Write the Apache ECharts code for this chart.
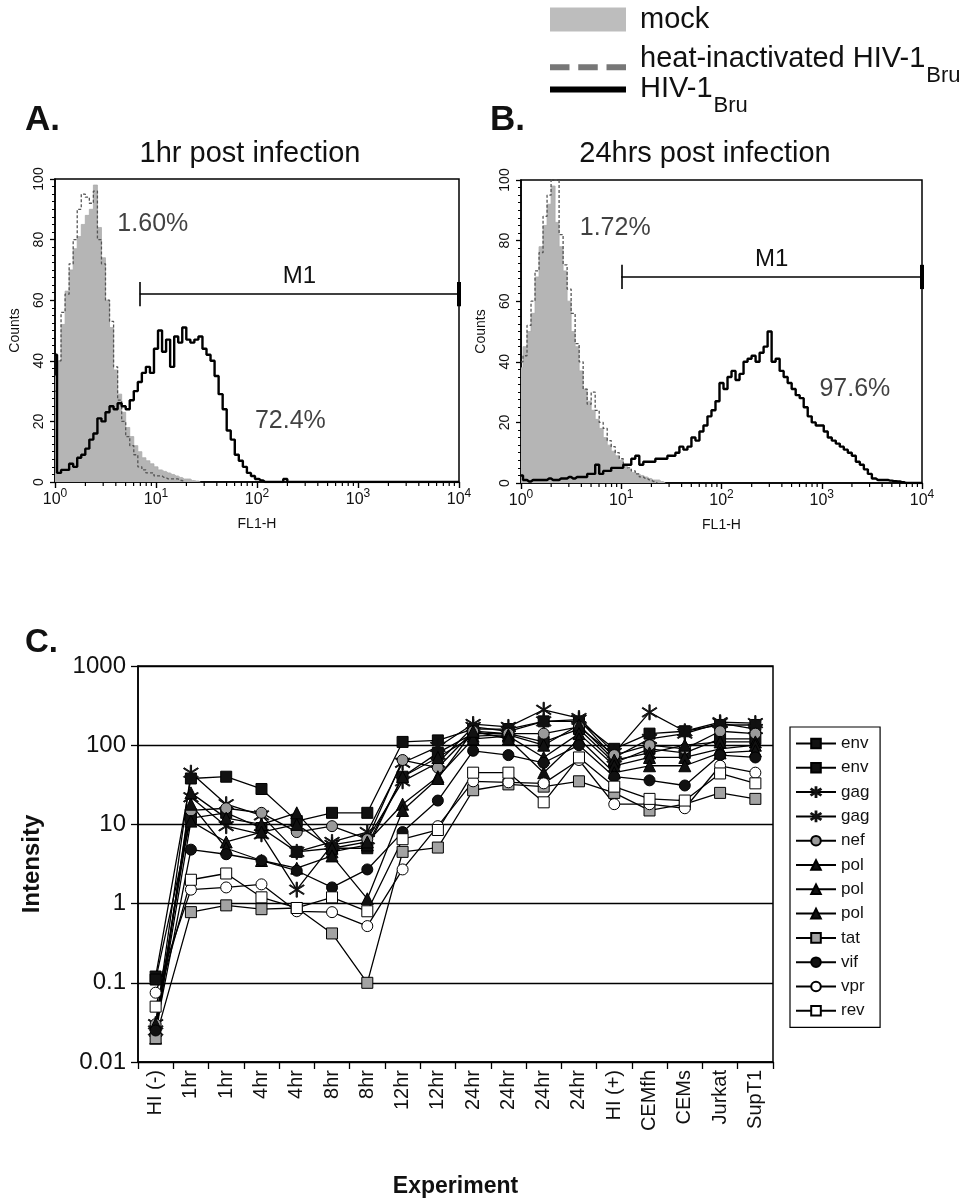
<!DOCTYPE html>
<html>
<head>
<meta charset="utf-8">
<script src="https://cdn.jsdelivr.net/npm/echarts@6.0.0/dist/echarts.min.js"></script>
<style>
html, body { margin: 0; padding: 0; background: #fff; }
#chart { width: 969px; height: 1201px; }
</style>
</head>
<body>
<div id="chart"></div>
<script>
// ---- panels A/B: flow histograms, 25 bins per decade starting at FL1-H = 10^0 ----
const binStep = 0.04;
const mockA = [35, 40, 52, 63, 70, 77, 81, 85, 88, 90, 98, 84, 74, 60, 51, 37, 29, 23, 18, 15, 12, 10, 8, 7, 6, 5, 4, 3.5, 3, 2.5, 2, 1.5, 1, 1, 0.5, 0.3, 0];
const heatA = [30, 40, 56, 62, 72, 80, 90, 95, 94, 92, 96, 80, 72, 60, 53, 38, 27, 20, 15, 12, 9, 5, 4, 3, 3, 2, 2, 1.5, 1, 1, 1, 0.5, 0];
const hivA = [42, 3, 4, 4, 6, 5, 8, 9, 11, 14, 16, 21, 20, 23, 25, 24, 26, 25, 24, 27, 30, 33, 36, 38, 36, 44, 50, 43, 47, 38, 48, 46, 51, 47, 46, 47, 48, 44, 42, 40, 35, 29, 24, 17, 14, 9, 7, 5, 3, 2, 1, 0.5, 0, 0, 0, 0, 0, 1, 0];
const mockB = [38, 45, 50, 56, 68, 78, 85, 92, 98, 86, 78, 70, 60, 50, 45, 37, 31, 27, 24, 21, 18, 15, 12.5, 10.5, 9, 7.5, 6, 4.5, 3.5, 3, 2.5, 2, 1.5, 1, 1, 0.5, 0];
const heatB = [40, 42, 52, 60, 70, 76, 88, 95, 100, 100, 82, 72, 64, 56, 46, 40, 31, 26, 30, 24, 20, 18, 14, 12, 10, 8, 6, 5, 4, 3, 2, 1.5, 1, 0.5, 0];
const hivB = [2.5, 1, 0.5, 1, 1, 1, 1, 1.5, 1, 1, 1.5, 1.5, 2, 1.5, 2, 2, 2, 3, 3, 6, 3, 4, 4, 5, 5, 5, 6, 6, 8, 9, 6, 7, 7, 7, 8, 8, 8, 9, 9, 10, 12, 11, 12, 15, 14, 17, 19, 22, 24, 27, 33, 31, 35, 37, 34, 36, 40, 41, 42, 40, 43, 45, 50, 40, 41, 37, 35, 33, 31, 29, 28, 25, 22, 20, 19, 19, 17, 15, 14, 13, 12, 11, 10, 9, 7, 6, 4.5, 3, 1.5, 1, 1, 1, 0.8, 0.6, 0.5, 0.3, 0];
const gateA = { start: 6.9, end: 10000, y: 62 };
const gateB = { start: 10, end: 10000, y: 68 };
const notesA = [{ value: [9.3, 85], name: '1.60%' }, { value: [214, 20], name: '72.4%' }];
const notesB = [{ value: [8.7, 84], name: '1.72%' }, { value: [2140, 31], name: '97.6%' }];
const decades = [1, 10, 100, 1000];
const minorSteps = [2, 3, 4, 5, 6, 7, 8, 9];

// ---- panel C ----
const categories = ['HI (-)', '1hr', '1hr', '4hr', '4hr', '8hr', '8hr', '12hr', '12hr', '24hr', '24hr', '24hr', '24hr', 'HI (+)', 'CEMfh', 'CEMs', 'Jurkat', 'SupT1'];
const env1 = [0.12, 38, 40, 28, 11, 14, 14, 110, 115, 160, 160, 200, 200, 90, 140, 150, 180, 180];
const env2 = [0.11, 12, 14, 9, 4.5, 5, 5, 40, 80, 140, 140, 110, 160, 60, 90, 80, 120, 120];
const gag1 = [0.03, 45, 18, 13, 4.5, 6, 8, 60, 95, 185, 170, 280, 220, 80, 260, 150, 195, 190];
const gag2 = [0.025, 22, 9.5, 7.5, 1.5, 5.5, 6.5, 35, 60, 170, 150, 200, 210, 70, 120, 140, 190, 160];
const nef = [0.03, 15, 16, 14, 8, 9.5, 6.5, 65, 52, 150, 140, 140, 170, 75, 100, 90, 150, 140];
const pol1 = [0.02, 25, 12, 10, 14, 4.5, 5.5, 40, 70, 130, 135, 100, 180, 65, 80, 100, 110, 110];
const pol2 = [0.025, 11, 6, 8, 10, 5, 6, 18, 40, 120, 130, 70, 140, 55, 70, 70, 90, 100];
const pol3 = [0.03, 18, 5, 3.5, 2.8, 4, 1.15, 15, 38, 150, 120, 45, 120, 45, 55, 55, 80, 85];
const tat = [0.02, 0.78, 0.95, 0.85, 0.88, 0.42, 0.1, 4.5, 5.1, 27, 32, 30, 35, 25, 15, 18, 25, 21];
const vif = [0.025, 4.8, 4.2, 3.5, 2.6, 1.6, 2.7, 8, 20, 85, 75, 60, 100, 40, 36, 31, 75, 70];
const vpr = [0.075, 1.5, 1.6, 1.75, 0.8, 0.78, 0.52, 2.7, 9.5, 35, 34, 33, 65, 18, 18, 16, 55, 45];
const rev = [0.05, 2.0, 2.4, 1.2, 0.88, 1.2, 0.8, 6.5, 8.5, 45, 45, 19, 70, 30, 21, 20, 44, 33];

const FONT = 'Liberation Sans, Arial, sans-serif';
const asterisk = 'path://M9.3,0L10.7,0L10.7,20L9.3,20Z M2.4,3.4L18.4,15.4L17.6,16.6L1.6,4.6Z M1.6,15.4L17.6,3.4L18.4,4.6L2.4,16.6Z';
// legend icons: invisible corner specks fix the 78x24 box, the bar sits a little low in it
const dashIcon = 'path://M0,0L0.01,0L0.01,0.01Z M0,24L0.01,24L0.01,23.99Z M0,18H20V24H0Z M29,18H49V24H29Z M58,18H78V24H58Z';
const barIcon = 'path://M0,0L0.01,0L0.01,0.01Z M0,24L0.01,24L0.01,23.99Z M0,10H78V16H0Z';

function bins(counts, tail) {
  const pts = counts.map((c, i) => [Math.pow(10, i * binStep), c]);
  if (tail) pts.push([10000, 0]);
  return pts;
}

const minorTicks = [];
decades.forEach(d => minorSteps.forEach(m => minorTicks.push([d * m, 0])));

function histAxes(gi) {
  return {
    x: {
      type: 'log', logBase: 10, min: 1, max: 10000, gridIndex: gi,
      name: 'FL1-H', nameLocation: 'middle', nameGap: 35,
      nameTextStyle: { fontSize: 14, color: '#111', fontFamily: FONT },
      axisLine: { lineStyle: { color: '#000', width: 1.5 } },
      axisTick: { show: true, length: 6, lineStyle: { color: '#000', width: 1.4 } },
      splitLine: { show: false },
      axisLabel: {
        margin: 6, color: '#111', fontFamily: FONT,
        formatter: v => '{b|10}{s|' + Math.round(Math.log10(v)) + '}',
        rich: { b: { fontSize: 16, fontFamily: FONT, color: '#111' }, s: { fontSize: 12, fontFamily: FONT, color: '#111', padding: [0, 0, 11, 0] } }
      }
    },
    y: {
      type: 'value', min: 0, max: 100, interval: 20, gridIndex: gi,
      name: 'Counts', nameLocation: 'middle', nameGap: 33, nameRotate: 90,
      nameTextStyle: { fontSize: 14, color: '#111', fontFamily: FONT },
      axisLine: { show: true, lineStyle: { color: '#000', width: 1.5 } },
      axisTick: { show: true, length: 5, lineStyle: { color: '#000', width: 1.3 } },
      minorTick: { show: true, splitNumber: 8, length: 3, lineStyle: { color: '#000', width: 1 } },
      splitLine: { show: false },
      axisLabel: { rotate: 90, margin: 9, fontSize: 14, color: '#111', fontFamily: FONT }
    }
  };
}

function histSeries(idx, mock, heat, hiv, gate, notes) {
  return [
    {
      name: 'mock', type: 'line', xAxisIndex: idx, yAxisIndex: idx, step: 'middle',
      symbol: 'none', data: bins(mock, false), z: 1,
      lineStyle: { color: '#ababab', width: 0.8 }, itemStyle: { color: '#b5b5b5' },
      areaStyle: { color: '#b5b5b5', opacity: 1 }
    },
    {
      name: 'heat-inactivated HIV-1', type: 'line', xAxisIndex: idx, yAxisIndex: idx, step: 'middle',
      symbol: 'none', data: bins(heat, false), z: 2,
      lineStyle: { color: '#555', width: 1.3, type: [3, 2] }, itemStyle: { color: '#777' }
    },
    {
      name: 'HIV-1', type: 'line', xAxisIndex: idx, yAxisIndex: idx, step: 'middle',
      symbol: 'none', data: bins(hiv, true), z: 3,
      lineStyle: { color: '#000', width: 2.4 }, itemStyle: { color: '#000' },
      markLine: {
        silent: true, symbol: ['none', 'none'], animation: false,
        lineStyle: { color: '#000', width: 1.6, type: 'solid' },
        label: { show: false },
        data: [
          [{ coord: [gate.start, gate.y], label: { show: true, position: 'middle', formatter: 'M1', fontSize: 24, color: '#111', fontFamily: FONT, distance: 6 } }, { coord: [gate.end, gate.y] }],
          [{ coord: [gate.start, gate.y - 4] }, { coord: [gate.start, gate.y + 4] }],
          [{ coord: [gate.end, gate.y - 4], lineStyle: { width: 4 } }, { coord: [gate.end, gate.y + 4] }]
        ]
      }
    },
    {
      type: 'scatter', xAxisIndex: idx, yAxisIndex: idx, symbolSize: 0, data: notes, z: 5, silent: true,
      label: { show: true, formatter: '{b}', position: 'inside', fontSize: 25, color: '#111', fontFamily: FONT }
    },
    {
      // minor log ticks under the FL1-H axis
      type: 'custom', xAxisIndex: idx, yAxisIndex: idx, data: minorTicks, silent: true, clip: false, z: 6,
      renderItem: (params, api) => {
        const p = api.coord([api.value(0), 0]);
        return { type: 'line', shape: { x1: p[0], y1: p[1], x2: p[0], y2: p[1] + 4 }, style: { stroke: '#000', lineWidth: 1.2 } };
      }
    }
  ];
}

function gene(name, data, symbol, size, fill, border) {
  return {
    name: name, type: 'line', xAxisIndex: 2, yAxisIndex: 2, data: data,
    symbol: symbol, symbolSize: size, showSymbol: true,
    lineStyle: { color: '#000', width: 1.3 },
    itemStyle: { color: fill, borderColor: border || '#000', borderWidth: 1 }
  };
}

function topLegend(item, top) {
  return {
    data: [item], left: 550, top: top, orient: 'vertical', itemWidth: 76, itemHeight: 24,
    selectedMode: false, padding: 0,
    formatter: n => n === 'mock' ? '{t|mock}' : '{t|' + n + '}{s|Bru}',
    textStyle: {
      color: '#111', fontFamily: FONT, fontSize: 29,
      rich: {
        t: { fontSize: 29, fontFamily: FONT, color: '#111', padding: [0, 0, 0, 9] },
        s: { fontSize: 22, fontFamily: FONT, color: '#111', padding: [34, 0, 0, 1] }
      }
    }
  };
}

const axA = histAxes(0), axB = histAxes(1);
const geneSeries = [
  gene('env', env1, 'rect', 11, '#111'),
  gene('env ', env2, 'rect', 11, '#111'),
  gene('gag', gag1, asterisk, 15, '#111', '#111'),
  gene('gag ', gag2, asterisk, 15, '#111', '#111'),
  gene('nef', nef, 'circle', 11, '#9a9a9a'),
  gene('pol', pol1, 'triangle', 12, '#111'),
  gene('pol ', pol2, 'triangle', 12, '#111'),
  gene('pol  ', pol3, 'triangle', 12, '#111'),
  gene('tat', tat, 'rect', 11, '#a3a3a3'),
  gene('vif', vif, 'circle', 11, '#111'),
  gene('vpr', vpr, 'circle', 11, '#fff'),
  gene('rev', rev, 'rect', 11, '#fff')
];

const chart = echarts.init(document.getElementById('chart'), null, { renderer: 'canvas' });
chart.setOption({
  animation: false,
  backgroundColor: '#fff',
  textStyle: { fontFamily: FONT },
  title: [
    { text: 'A.', left: 20, top: 98, textStyle: { fontSize: 35, fontWeight: 'bold', color: '#111', fontFamily: FONT } },
    { text: 'B.', left: 485, top: 98, textStyle: { fontSize: 35, fontWeight: 'bold', color: '#111', fontFamily: FONT } },
    { text: 'C.', left: 20, top: 621, textStyle: { fontSize: 33, fontWeight: 'bold', color: '#111', fontFamily: FONT } },
    { text: '1hr post infection', left: 245, textAlign: 'center', top: 134, textStyle: { fontSize: 29, fontWeight: 'normal', color: '#111', fontFamily: FONT } },
    { text: '24hrs post infection', left: 700, textAlign: 'center', top: 134, textStyle: { fontSize: 29, fontWeight: 'normal', color: '#111', fontFamily: FONT } }
  ],
  legend: [
    topLegend({ name: 'mock', icon: 'rect', itemStyle: { color: '#bdbdbd' } }, 5),
    topLegend({ name: 'heat-inactivated HIV-1', icon: dashIcon, itemStyle: { color: '#777' } }, 44),
    topLegend({ name: 'HIV-1', icon: barIcon, itemStyle: { color: '#000' } }, 74),
    {
      data: geneSeries.map(s => s.name),
      left: 790, top: 727, orient: 'vertical', itemWidth: 40, itemHeight: 12, itemGap: 7.3,
      padding: [8, 6, 8, 5], borderColor: '#000', borderWidth: 1.2, selectedMode: false,
      textStyle: { fontSize: 17, color: '#111', fontFamily: FONT }
    }
  ],
  grid: [
    { left: 55, top: 179, width: 404, height: 303, show: true, borderColor: '#000', borderWidth: 1.5, backgroundColor: 'transparent' },
    { left: 521, top: 180, width: 401, height: 303, show: true, borderColor: '#000', borderWidth: 1.5, backgroundColor: 'transparent' },
    { left: 138, top: 666, width: 635, height: 396, show: true, borderColor: '#000', borderWidth: 1.5, backgroundColor: 'transparent' }
  ],
  xAxis: [
    axA.x, axB.x,
    {
      type: 'category', gridIndex: 2, data: categories, boundaryGap: true,
      name: 'Experiment', nameLocation: 'middle', nameGap: 113,
      nameTextStyle: { fontSize: 23, fontWeight: 'bold', color: '#111', fontFamily: FONT },
      axisLine: { lineStyle: { color: '#000', width: 1.5 } },
      axisTick: { show: true, interval: 0, length: 7, lineStyle: { color: '#000', width: 1.3 } },
      axisLabel: { interval: 0, rotate: 90, margin: 8, fontSize: 20, color: '#111', fontFamily: FONT }
    }
  ],
  yAxis: [
    axA.y, axB.y,
    {
      type: 'log', logBase: 10, min: 0.01, max: 1000, gridIndex: 2,
      name: 'Intensity', nameLocation: 'middle', nameGap: 94, nameRotate: 90,
      nameTextStyle: { fontSize: 24, fontWeight: 'bold', color: '#111', fontFamily: FONT },
      axisLine: { show: true, lineStyle: { color: '#000', width: 1.5 } },
      axisTick: { show: true, length: 7, lineStyle: { color: '#000', width: 1.3 } },
      splitLine: { show: true, lineStyle: { color: '#000', width: 1.4 } },
      axisLabel: { margin: 12, fontSize: 24, color: '#111', fontFamily: FONT, formatter: v => String(+Number(v).toPrecision(3)) }
    }
  ],
  series: [
    ...histSeries(0, mockA, heatA, hivA, gateA, notesA),
    ...histSeries(1, mockB, heatB, hivB, gateB, notesB),
    ...geneSeries
  ]
});
</script>
</body>
</html>
